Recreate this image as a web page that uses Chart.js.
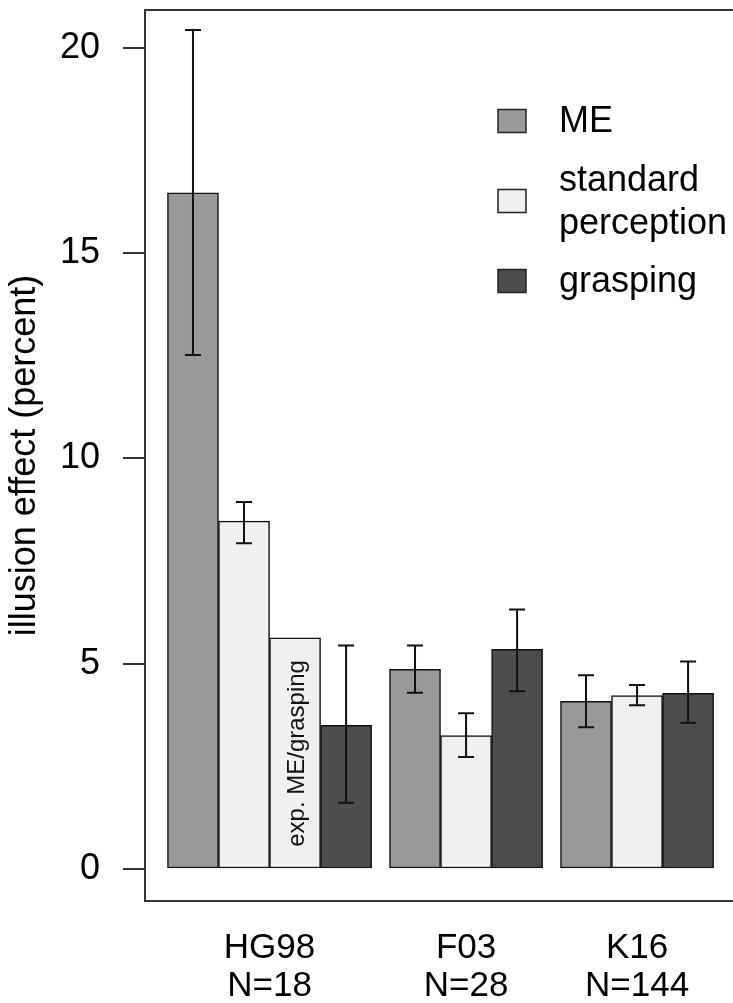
<!DOCTYPE html>
<html lang="en">
<head>
    <meta charset="UTF-8">
    <title>Illusion effect by study</title>
    <script src="https://cdn.jsdelivr.net/npm/chart.js"></script>
    <style>
        body { margin: 0; background: #fff; }
        #wrap { width: 733px; height: 1003px; position: relative; }
    </style>
</head>
<body>
    <div id="wrap"><canvas id="illusionChart"></canvas></div>

    <script>
        // Studies along the x axis
        const groups = ['HG98', 'F03', 'K16'];
        const groupN = ['N=18', 'N=28', 'N=144'];
        const groupCenters = [2, 5.85, 9.2];

        // Bar positions (bar units) and values (percent)
        const meX = [0.5, 4.85, 8.2];
        const meVal = [16.47, 4.86, 4.08];
        const meLo = [12.52, 4.29, 3.45];
        const meHi = [20.43, 5.44, 4.72];

        const stdX = [1.5, 5.85, 9.2];
        const stdVal = [8.47, 3.25, 4.22];
        const stdLo = [7.93, 2.73, 3.99];
        const stdHi = [8.94, 3.79, 4.48];

        const expX = [2.5];
        const expVal = [5.63];

        const grX = [3.5, 6.85, 10.2];
        const grVal = [3.50, 5.35, 4.28];
        const grLo = [1.61, 4.33, 3.56];
        const grHi = [5.44, 6.32, 5.05];

        const yTicks = [0, 5, 10, 15, 20];
        const yMin = -0.78, yMax = 20.92;
        const xMin = -0.44, xMax = 11.08;

        const legendItems = [
            { lines: ['ME'], color: '#999999' },
            { lines: ['standard', 'perception'], color: '#F0F0F0' },
            { lines: ['grasping'], color: '#4D4D4D' }
        ];

        const FONT = '"Liberation Sans", Arial, Helvetica, sans-serif';

        function pts(xs, ys) {
            return xs.map((x, i) => ({ x: x, y: ys[i] }));
        }

        // error bars (mean +/- error), drawn with the chart's own scales
        const errorBars = {
            id: 'errorBars',
            afterDatasetsDraw(chart) {
                const ctx = chart.ctx;
                const yScale = chart.scales.y;
                ctx.save();
                ctx.strokeStyle = '#111';
                ctx.lineWidth = 2;
                chart.data.datasets.forEach((ds, di) => {
                    if (!ds.errLo) return;
                    const meta = chart.getDatasetMeta(di);
                    meta.data.forEach((bar, i) => {
                        const yl = yScale.getPixelForValue(ds.errLo[i]);
                        const yh = yScale.getPixelForValue(ds.errHi[i]);
                        ctx.beginPath();
                        ctx.moveTo(bar.x, yl); ctx.lineTo(bar.x, yh);
                        ctx.moveTo(bar.x - 8, yl); ctx.lineTo(bar.x + 8, yl);
                        ctx.moveTo(bar.x - 8, yh); ctx.lineTo(bar.x + 8, yh);
                        ctx.stroke();
                    });
                });
                ctx.restore();
            }
        };

        // box around the plot (right side runs off the page), bar note and legend
        const extras = {
            id: 'extras',
            afterDraw(chart) {
                const ctx = chart.ctx;
                const a = chart.chartArea;
                ctx.save();
                ctx.strokeStyle = '#333';
                ctx.lineWidth = 2;
                ctx.beginPath();
                ctx.moveTo(chart.width, a.top); ctx.lineTo(a.left, a.top);
                ctx.lineTo(a.left, a.bottom); ctx.lineTo(chart.width, a.bottom);
                ctx.stroke();

                // note inside the expected-effect bar
                const expMeta = chart.getDatasetMeta(2);
                const bar = expMeta.data[0];
                ctx.translate(bar.x + 9, chart.scales.y.getPixelForValue(0.54));
                ctx.rotate(-Math.PI / 2);
                ctx.fillStyle = '#111';
                ctx.font = '24px ' + FONT;
                ctx.textAlign = 'left';
                ctx.textBaseline = 'alphabetic';
                ctx.fillText('exp. ME/grasping', 0, 0);
                ctx.setTransform(1, 0, 0, 1, 0, 0);

                // legend
                ctx.font = '36px ' + FONT;
                ctx.textAlign = 'left';
                ctx.textBaseline = 'alphabetic';
                legendItems.forEach((item, i) => {
                    const cy = 121 + i * 80;
                    ctx.fillStyle = item.color;
                    ctx.fillRect(498, cy - 11.5, 28, 23);
                    ctx.strokeStyle = '#222';
                    ctx.lineWidth = 1.5;
                    ctx.strokeRect(498, cy - 11.5, 28, 23);
                    ctx.fillStyle = '#000';
                    if (item.lines.length === 1) {
                        ctx.fillText(item.lines[0], 559, cy + 11);
                    } else {
                        ctx.fillText(item.lines[0], 559, cy - 10);
                        ctx.fillText(item.lines[1], 559, cy + 32.5);
                    }
                });
                ctx.restore();
            }
        };

        const barStyle = {
            borderColor: '#111',
            borderWidth: 1.5,
            borderSkipped: false,
            grouped: false,
            barPercentage: 1,
            categoryPercentage: 1
        };

        const ctx = document.getElementById('illusionChart').getContext('2d');
        new Chart(ctx, {
            type: 'bar',
            data: {
                datasets: [
                    Object.assign({ label: 'ME', data: pts(meX, meVal), backgroundColor: '#999999', errLo: meLo, errHi: meHi }, barStyle),
                    Object.assign({ label: 'standard perception', data: pts(stdX, stdVal), backgroundColor: '#F0F0F0', errLo: stdLo, errHi: stdHi }, barStyle),
                    Object.assign({ label: 'exp. ME/grasping', data: pts(expX, expVal), backgroundColor: '#F0F0F0' }, barStyle),
                    Object.assign({ label: 'grasping', data: pts(grX, grVal), backgroundColor: '#4D4D4D', errLo: grLo, errHi: grHi }, barStyle)
                ]
            },
            options: {
                responsive: true,
                maintainAspectRatio: false,
                animation: false,
                layout: { padding: { top: 10, left: 0, right: 0, bottom: 0 } },
                plugins: {
                    legend: { display: false },
                    tooltip: { enabled: false }
                },
                scales: {
                    x: {
                        type: 'linear',
                        min: xMin,
                        max: xMax,
                        offset: false,
                        grid: { display: false, drawTicks: false },
                        border: { display: false },
                        afterBuildTicks: (scale) => {
                            scale.ticks = groupCenters.map(v => ({ value: v }));
                        },
                        afterFit: (scale) => {
                            scale.height = 102;
                            scale.paddingLeft = 0;
                            scale.paddingRight = 0;
                        },
                        ticks: {
                            autoSkip: false,
                            maxRotation: 0,
                            padding: 28,
                            color: '#000',
                            font: { family: FONT, size: 35, lineHeight: '38px' },
                            callback: (value) => {
                                const i = groupCenters.findIndex(c => Math.abs(c - value) < 1e-6);
                                return i < 0 ? '' : [groups[i], groupN[i]];
                            }
                        }
                    },
                    y: {
                        min: yMin,
                        max: yMax,
                        afterBuildTicks: (scale) => {
                            scale.ticks = yTicks.map(v => ({ value: v }));
                        },
                        afterFit: (scale) => {
                            scale.width = 145;
                            scale.paddingTop = 0;
                            scale.paddingBottom = 0;
                        },
                        grid: {
                            drawOnChartArea: false,
                            drawTicks: true,
                            tickLength: 22,
                            color: '#333',
                            lineWidth: 2
                        },
                        border: { display: false },
                        ticks: {
                            padding: 23,
                            color: '#000',
                            font: { family: FONT, size: 36 }
                        },
                        title: {
                            display: true,
                            text: 'illusion effect (percent)',
                            color: '#000',
                            padding: { top: 3, bottom: 0 },
                            font: { family: FONT, size: 36 }
                        }
                    }
                }
            },
            plugins: [errorBars, extras]
        });
    </script>
</body>
</html>
